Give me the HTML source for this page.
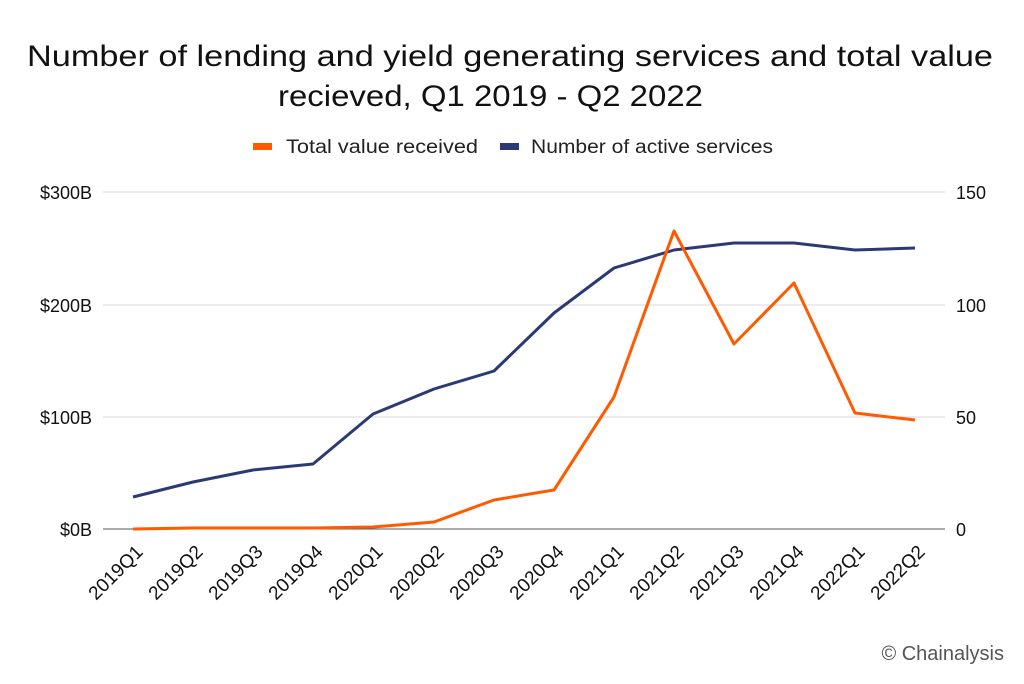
<!DOCTYPE html>
<html><head><style>body{margin:0;background:#fff}</style></head><body>
<svg width="1024" height="679" xmlns="http://www.w3.org/2000/svg" font-family="Liberation Sans, sans-serif">
<rect width="1024" height="679" fill="#fff"/>
<text x="27" y="66" font-size="30" textLength="966" lengthAdjust="spacingAndGlyphs" fill="#111">Number of lending and yield generating services and total value</text>
<text x="278" y="106" font-size="30" textLength="425" lengthAdjust="spacingAndGlyphs" fill="#111">recieved, Q1 2019 - Q2 2022</text>
<rect x="253" y="143" width="19" height="7" fill="#ff5a00"/>
<text x="286" y="153" font-size="19" textLength="192" lengthAdjust="spacingAndGlyphs" fill="#222">Total value received</text>
<rect x="500" y="143" width="19" height="7" fill="#2b3a73"/>
<text x="531" y="153" font-size="19" textLength="242" lengthAdjust="spacingAndGlyphs" fill="#222">Number of active services</text>
<g stroke="#d9d9d9" stroke-width="1">
<line x1="103" y1="192" x2="945" y2="192"/><line x1="103" y1="305" x2="945" y2="305"/><line x1="103" y1="417" x2="945" y2="417"/>
</g>
<line x1="103" y1="529" x2="945" y2="529" stroke="#555" stroke-width="1"/>
<g font-size="18" fill="#111" text-anchor="end">
<text x="92" y="199">$300B</text><text x="92" y="312">$200B</text><text x="92" y="424">$100B</text><text x="92" y="536">$0B</text>
</g>
<g font-size="18" fill="#111" text-anchor="start">
<text x="956" y="199">150</text><text x="956" y="312">100</text><text x="956" y="424">50</text><text x="956" y="536">0</text>
</g>
<polyline fill="none" stroke="#2b3a73" stroke-width="3" stroke-linejoin="round" points="133,497 193,482 253,470 313,464 373,414 434,389 494,371 554,313 614,268 674,250 734,243 794,243 855,250 915,248"/>
<polyline fill="none" stroke="#ff5a00" stroke-width="3" stroke-linejoin="round" points="133,529 193,528 253,528 313,528 373,527 434,522 494,500 554,490 614,397 674,231 734,344 794,283 855,413 915,420"/>
<g font-size="19" fill="#111" text-anchor="end">
<text transform="translate(144,553) rotate(-45)">2019Q1</text>
<text transform="translate(204,553) rotate(-45)">2019Q2</text>
<text transform="translate(264,553) rotate(-45)">2019Q3</text>
<text transform="translate(324,553) rotate(-45)">2019Q4</text>
<text transform="translate(384,553) rotate(-45)">2020Q1</text>
<text transform="translate(445,553) rotate(-45)">2020Q2</text>
<text transform="translate(505,553) rotate(-45)">2020Q3</text>
<text transform="translate(565,553) rotate(-45)">2020Q4</text>
<text transform="translate(625,553) rotate(-45)">2021Q1</text>
<text transform="translate(685,553) rotate(-45)">2021Q2</text>
<text transform="translate(745,553) rotate(-45)">2021Q3</text>
<text transform="translate(805,553) rotate(-45)">2021Q4</text>
<text transform="translate(866,553) rotate(-45)">2022Q1</text>
<text transform="translate(926,553) rotate(-45)">2022Q2</text>
</g>
<text x="1004" y="660" font-size="20" text-anchor="end" fill="#555">© Chainalysis</text>
</svg>
</body></html>
